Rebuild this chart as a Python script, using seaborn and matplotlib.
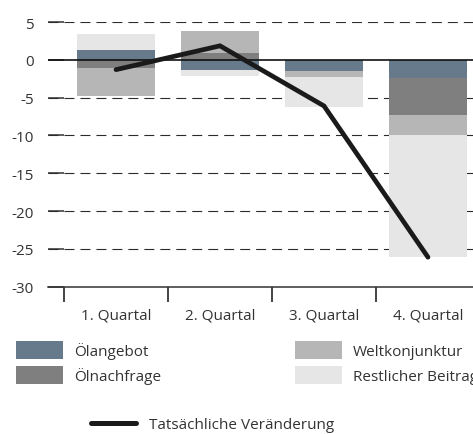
import matplotlib
matplotlib.use("Agg")
import matplotlib.pyplot as plt
from matplotlib.patches import Patch
from matplotlib.lines import Line2D
import numpy as np
import seaborn as sns

# Quarterly contributions to the change (percentage points)
quartale = ["1. Quartal", "2. Quartal", "3. Quartal", "4. Quartal"]
oelangebot = [1.3, -1.3, -1.5, -2.4]
oelnachfrage = [-1.1, 0.9, 0.0, -4.9]
weltkonjunktur = [-3.7, 2.85, -0.8, -2.65]
restlicher_beitrag = [2.1, -0.8, -3.9, -16.1]
tatsaechlich = [-1.3, 1.85, -6.1, -26.1]

y_ticks = [5, 0, -5, -10, -15, -20, -25, -30]
y_labels = ["5", "0", "-5", "-10", "-15", "-20", "-25", "-30"]

komponenten = [
    ("Ölangebot", oelangebot, "#677a8c"),
    ("Ölnachfrage", oelnachfrage, "#7f7f7f"),
    ("Weltkonjunktur", weltkonjunktur, "#b5b6b5"),
    ("Restlicher Beitrag", restlicher_beitrag, "#e6e6e6"),
]

sns.set_theme(style="white")
plt.rcParams["font.family"] = ["Open Sans", "DejaVu Sans"]
plt.rcParams["lines.scale_dashes"] = False
text_color = "#333333"
fs = 11.0

W, H = 473, 435
fig = plt.figure(figsize=(W / 100, H / 100), dpi=100)
ax_left, ax_top, ax_bottom = 48, 23, 287.7
ax = fig.add_axes([ax_left / W, 1 - ax_bottom / H, (W - ax_left) / W, (ax_bottom - ax_top) / H])

# Stacked bars: positive and negative parts stacked separately
pos_base = np.zeros(len(quartale))
neg_base = np.zeros(len(quartale))
for name, vals, col in komponenten:
    vals = np.asarray(vals, dtype=float)
    bottoms = np.where(vals >= 0, pos_base, neg_base)
    sns.barplot(x=quartale, y=vals, bottom=bottoms, color=col, saturation=1,
                width=0.75, errorbar=None, linewidth=0, ax=ax, zorder=2)
    pos_base = pos_base + np.clip(vals, 0, None)
    neg_base = neg_base + np.clip(vals, None, 0)

# Dashed grid lines behind the bars, solid zero line above them
for yv in y_ticks:
    if yv in (0, -30):
        continue
    ax.axhline(yv, color="#2b2b2b", lw=0.8, ls=(0, (7.2, 4.3)), zorder=1)
ax.axhline(0, color="#111111", lw=1.2, zorder=3)

# Actual change
sns.lineplot(x=np.arange(len(quartale)), y=tatsaechlich, color="#1a1a1a", lw=3.4,
             ax=ax, zorder=4, solid_capstyle="round", solid_joinstyle="miter")

ax.set_yticks(y_ticks)
ax.set_yticklabels(y_labels)
ax.set_xticks(range(len(quartale)))
ax.set_xticklabels(quartale)
ax.set_xticks([-0.5, 0.5, 1.5, 2.5, 3.5], minor=True)
ax.set_xlim(-0.654, 3.433)
ax.set_ylim(-30, 5)
ax.tick_params(axis="x", which="major", length=0, pad=15, labelsize=fs, labelcolor=text_color)
ax.tick_params(axis="x", which="minor", direction="out", length=10.8, width=1.4,
               color="#444444", bottom=True)
ax.tick_params(axis="y", which="major", direction="in", length=11.5, width=1.1,
               color="#333333", pad=10, labelsize=fs, labelcolor=text_color, left=True)
ax.set_xlabel("")
ax.set_ylabel("")
for side in ("left", "top", "right"):
    ax.spines[side].set_visible(False)
ax.spines["bottom"].set_color("#333333")
ax.spines["bottom"].set_linewidth(1.1)
ax.set_facecolor("white")

fpx = fs * 100 / 72
leg_kw = dict(frameon=False, fontsize=fs, borderpad=0, borderaxespad=0,
              handlelength=47 / fpx, handleheight=22 / fpx, labelspacing=7.5 / fpx,
              handletextpad=11 / fpx, labelcolor=text_color, loc="upper left")
h = [Patch(facecolor=c, edgecolor="none") for _, _, c in komponenten]
l = [n for n, _, _ in komponenten]
leg1 = fig.legend(h[:2], l[:2], bbox_to_anchor=(16 / W, 1 - 341.7 / H), **leg_kw)
leg2 = fig.legend(h[2:], l[2:], bbox_to_anchor=(295 / W, 1 - 341.7 / H), **leg_kw)
line_h = Line2D([0], [0], color="#1a1a1a", lw=3.6, solid_capstyle="round")
leg3 = fig.legend([line_h], ["Tatsächliche Veränderung"], frameon=False, fontsize=fs,
                  borderpad=0, borderaxespad=0, handlelength=45 / fpx,
                  handletextpad=13 / fpx, labelcolor=text_color, loc="center left",
                  bbox_to_anchor=(91 / W, 1 - 426 / H))

fig.savefig("out.png", dpi=100, facecolor="white")
